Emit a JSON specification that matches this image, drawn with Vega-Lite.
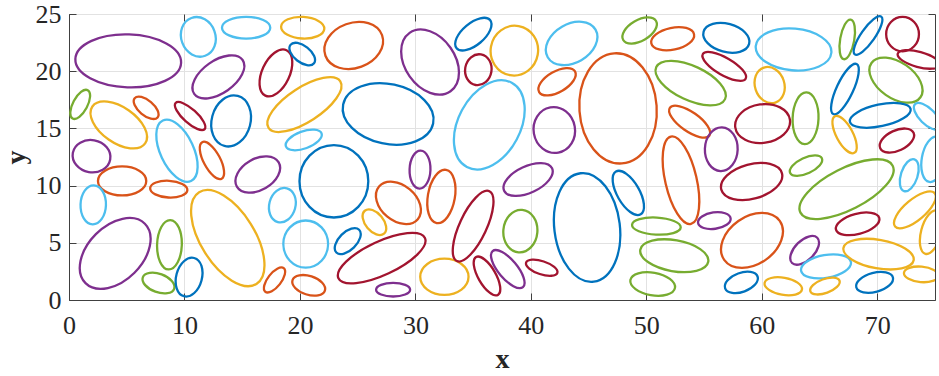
{
"$schema":"https://vega.github.io/schema/vega-lite/v6.json",
"width":866,"height":286,
"autosize":{"type":"none"},
"padding":{"left":69,"top":14,"right":4,"bottom":76},
"background":"white",
"config":{"view":{"stroke":"#404040","strokeWidth":1},"font":"Liberation Serif"},
"resolve":{"axis":{"x":"independent","y":"independent"}},
"data":{"values":[
{"x":5.13,"y":20.9,"a":4.6,"r":0.5,"t":-2,"c":"purple"},
{"x":11.2,"y":23.0,"a":1.75,"r":0.85,"t":-70,"c":"lightblue"},
{"x":15.34,"y":23.8,"a":2.1,"r":0.45,"t":0,"c":"lightblue"},
{"x":12.94,"y":19.5,"a":2.57,"r":0.55,"t":35,"c":"purple"},
{"x":17.92,"y":19.85,"a":2.18,"r":0.55,"t":65,"c":"darkred"},
{"x":0.97,"y":17.1,"a":1.4,"r":0.45,"t":62,"c":"green"},
{"x":4.31,"y":15.3,"a":2.8,"r":0.55,"t":-35,"c":"yellow"},
{"x":6.68,"y":16.8,"a":1.3,"r":0.5,"t":-40,"c":"orange"},
{"x":10.49,"y":16.08,"a":1.7,"r":0.35,"t":-42,"c":"darkred"},
{"x":14.04,"y":15.65,"a":2.25,"r":0.75,"t":75,"c":"blue"},
{"x":1.95,"y":12.57,"a":1.65,"r":0.85,"t":-10,"c":"purple"},
{"x":9.35,"y":13.05,"a":2.9,"r":0.5,"t":-65,"c":"lightblue"},
{"x":12.38,"y":12.2,"a":1.8,"r":0.4,"t":-62,"c":"orange"},
{"x":20.24,"y":23.8,"a":1.88,"r":0.5,"t":-3,"c":"yellow"},
{"x":20.2,"y":21.5,"a":1.3,"r":0.55,"t":-38,"c":"blue"},
{"x":24.66,"y":22.25,"a":2.62,"r":0.75,"t":20,"c":"orange"},
{"x":31.27,"y":20.8,"a":3.1,"r":0.7,"t":-55,"c":"purple"},
{"x":35.02,"y":23.24,"a":1.9,"r":0.5,"t":40,"c":"blue"},
{"x":35.45,"y":20.13,"a":1.35,"r":0.85,"t":80,"c":"darkred"},
{"x":38.57,"y":21.8,"a":2.17,"r":0.95,"t":80,"c":"yellow"},
{"x":20.39,"y":17.08,"a":3.72,"r":0.4,"t":33,"c":"yellow"},
{"x":27.64,"y":16.26,"a":4.0,"r":0.65,"t":-12,"c":"blue"},
{"x":20.33,"y":13.99,"a":1.65,"r":0.45,"t":20,"c":"lightblue"},
{"x":36.4,"y":15.31,"a":4.15,"r":0.65,"t":62,"c":"lightblue"},
{"x":43.53,"y":22.43,"a":2.4,"r":0.7,"t":30,"c":"lightblue"},
{"x":49.42,"y":23.56,"a":1.65,"r":0.55,"t":30,"c":"green"},
{"x":52.28,"y":22.84,"a":1.9,"r":0.5,"t":12,"c":"orange"},
{"x":42.27,"y":19.08,"a":1.8,"r":0.5,"t":30,"c":"orange"},
{"x":47.55,"y":16.75,"a":4.8,"r":0.7,"t":-86,"c":"orange"},
{"x":42.03,"y":14.86,"a":2.0,"r":0.9,"t":-80,"c":"purple"},
{"x":53.84,"y":18.96,"a":3.3,"r":0.45,"t":-25,"c":"green"},
{"x":53.75,"y":15.59,"a":2.1,"r":0.4,"t":-35,"c":"orange"},
{"x":53.0,"y":10.47,"a":3.9,"r":0.35,"t":-77,"c":"orange"},
{"x":56.49,"y":13.18,"a":1.9,"r":0.75,"t":88,"c":"purple"},
{"x":56.93,"y":22.92,"a":2.05,"r":0.6,"t":-15,"c":"blue"},
{"x":56.75,"y":20.42,"a":2.15,"r":0.35,"t":-30,"c":"darkred"},
{"x":62.75,"y":21.9,"a":3.3,"r":0.55,"t":-5,"c":"lightblue"},
{"x":67.4,"y":22.78,"a":1.75,"r":0.35,"t":80,"c":"green"},
{"x":69.2,"y":23.12,"a":2.0,"r":0.3,"t":55,"c":"blue"},
{"x":72.19,"y":23.24,"a":1.5,"r":0.95,"t":90,"c":"darkred"},
{"x":73.6,"y":21.03,"a":1.9,"r":0.35,"t":-15,"c":"darkred"},
{"x":60.68,"y":18.79,"a":1.6,"r":0.8,"t":-72,"c":"yellow"},
{"x":63.79,"y":15.88,"a":2.25,"r":0.5,"t":88,"c":"green"},
{"x":67.2,"y":18.44,"a":2.4,"r":0.3,"t":65,"c":"blue"},
{"x":71.62,"y":19.22,"a":2.6,"r":0.6,"t":-35,"c":"green"},
{"x":70.26,"y":16.14,"a":2.7,"r":0.35,"t":12,"c":"blue"},
{"x":60.07,"y":15.42,"a":2.4,"r":0.7,"t":8,"c":"darkred"},
{"x":67.17,"y":14.46,"a":1.8,"r":0.4,"t":-62,"c":"yellow"},
{"x":74.33,"y":16.06,"a":1.5,"r":0.45,"t":-45,"c":"lightblue"},
{"x":71.7,"y":13.94,"a":1.6,"r":0.55,"t":25,"c":"darkred"},
{"x":74.85,"y":12.3,"a":2.0,"r":0.5,"t":80,"c":"lightblue"},
{"x":72.77,"y":10.91,"a":1.45,"r":0.5,"t":72,"c":"lightblue"},
{"x":4.6,"y":10.41,"a":2.1,"r":0.6,"t":0,"c":"orange"},
{"x":8.64,"y":9.69,"a":1.62,"r":0.45,"t":-3,"c":"orange"},
{"x":2.1,"y":8.32,"a":1.7,"r":0.65,"t":88,"c":"lightblue"},
{"x":4.0,"y":4.07,"a":3.65,"r":0.65,"t":45,"c":"purple"},
{"x":8.7,"y":4.83,"a":2.15,"r":0.5,"t":88,"c":"green"},
{"x":7.75,"y":1.48,"a":1.45,"r":0.55,"t":-20,"c":"green"},
{"x":10.4,"y":2.0,"a":1.72,"r":0.65,"t":75,"c":"blue"},
{"x":13.75,"y":5.41,"a":4.7,"r":0.5,"t":-58,"c":"yellow"},
{"x":17.8,"y":1.75,"a":1.3,"r":0.45,"t":52,"c":"orange"},
{"x":16.35,"y":10.97,"a":2.1,"r":0.65,"t":30,"c":"purple"},
{"x":18.48,"y":8.29,"a":1.52,"r":0.75,"t":75,"c":"lightblue"},
{"x":22.94,"y":10.38,"a":3.15,"r":0.95,"t":90,"c":"blue"},
{"x":20.5,"y":4.89,"a":2.05,"r":0.95,"t":90,"c":"lightblue"},
{"x":20.76,"y":1.28,"a":1.48,"r":0.55,"t":-18,"c":"orange"},
{"x":24.14,"y":5.15,"a":1.4,"r":0.55,"t":45,"c":"blue"},
{"x":26.45,"y":6.8,"a":1.3,"r":0.6,"t":-50,"c":"yellow"},
{"x":28.53,"y":8.49,"a":2.2,"r":0.7,"t":-40,"c":"orange"},
{"x":27.08,"y":3.66,"a":4.15,"r":0.35,"t":25,"c":"darkred"},
{"x":28.07,"y":0.9,"a":1.48,"r":0.4,"t":0,"c":"purple"},
{"x":30.4,"y":11.4,"a":1.65,"r":0.55,"t":88,"c":"purple"},
{"x":32.25,"y":9.05,"a":2.35,"r":0.5,"t":80,"c":"orange"},
{"x":32.51,"y":2.03,"a":2.1,"r":0.75,"t":0,"c":"yellow"},
{"x":35.0,"y":6.46,"a":3.35,"r":0.35,"t":65,"c":"darkred"},
{"x":36.2,"y":2.1,"a":1.9,"r":0.4,"t":-60,"c":"darkred"},
{"x":38.0,"y":2.7,"a":2.05,"r":0.4,"t":-50,"c":"purple"},
{"x":39.09,"y":6.02,"a":1.85,"r":0.8,"t":85,"c":"green"},
{"x":39.76,"y":10.53,"a":2.3,"r":0.5,"t":25,"c":"purple"},
{"x":40.94,"y":2.82,"a":1.43,"r":0.4,"t":-18,"c":"darkred"},
{"x":44.87,"y":6.34,"a":4.75,"r":0.6,"t":-83,"c":"blue"},
{"x":48.44,"y":9.36,"a":2.15,"r":0.45,"t":-60,"c":"blue"},
{"x":50.87,"y":6.46,"a":2.12,"r":0.35,"t":-3,"c":"green"},
{"x":52.42,"y":3.87,"a":3.0,"r":0.45,"t":-10,"c":"green"},
{"x":50.55,"y":1.4,"a":1.97,"r":0.5,"t":-10,"c":"green"},
{"x":55.89,"y":6.94,"a":1.43,"r":0.5,"t":8,"c":"purple"},
{"x":59.12,"y":10.36,"a":2.73,"r":0.55,"t":15,"c":"darkred"},
{"x":59.15,"y":5.21,"a":2.95,"r":0.7,"t":35,"c":"orange"},
{"x":63.83,"y":11.75,"a":1.52,"r":0.45,"t":25,"c":"green"},
{"x":67.34,"y":9.69,"a":4.5,"r":0.4,"t":27,"c":"green"},
{"x":68.3,"y":6.66,"a":1.95,"r":0.45,"t":15,"c":"darkred"},
{"x":63.71,"y":4.34,"a":1.55,"r":0.55,"t":45,"c":"purple"},
{"x":65.56,"y":2.94,"a":2.2,"r":0.45,"t":10,"c":"lightblue"},
{"x":70.11,"y":4.01,"a":3.1,"r":0.4,"t":-10,"c":"yellow"},
{"x":73.26,"y":7.88,"a":2.25,"r":0.4,"t":40,"c":"yellow"},
{"x":74.67,"y":5.93,"a":1.95,"r":0.45,"t":75,"c":"yellow"},
{"x":73.8,"y":2.24,"a":1.5,"r":0.45,"t":-5,"c":"yellow"},
{"x":58.23,"y":1.54,"a":1.5,"r":0.55,"t":20,"c":"blue"},
{"x":61.86,"y":1.2,"a":1.65,"r":0.45,"t":-10,"c":"yellow"},
{"x":65.47,"y":1.22,"a":1.35,"r":0.45,"t":20,"c":"yellow"},
{"x":69.77,"y":1.54,"a":1.65,"r":0.5,"t":15,"c":"blue"}
]},
"layer":[
{
"mark":{"type":"point","filled":false,"strokeWidth":2.3,"opacity":1,"clip":true},
"encoding":{
"x":{"field":"x","type":"quantitative","title":"x",
 "scale":{"domain":[0,75],"nice":false,"zero":false},
 "axis":{"orient":"bottom","values":[0,10,20,30,40,50,60,70],"tickSize":-7,"tickColor":"#404040","domainColor":"#404040","gridColor":"#e2e2e2","labelFont":"Liberation Serif","labelFontSize":26,"labelColor":"#262626","labelPadding":19,"labelFlush":false,"labelOverlap":false,"titleFont":"Liberation Serif","titleFontSize":28,"titleFontWeight":"bold","titleColor":"#262626","titlePadding":7}},
"y":{"field":"y","type":"quantitative","title":"y",
 "scale":{"domain":[0,25],"nice":false,"zero":false},
 "axis":{"orient":"left","values":[0,5,10,15,20,25],"tickSize":-7,"tickColor":"#404040","domainColor":"#404040","gridColor":"#e2e2e2","labelFont":"Liberation Serif","labelFontSize":26,"labelColor":"#262626","labelPadding":15,"labelFlush":false,"labelOverlap":false,"titleFont":"Liberation Serif","titleFontSize":28,"titleFontWeight":"bold","titleColor":"#262626","titlePadding":5}},
"size":{"field":"a","type":"quantitative","scale":{"type":"pow","exponent":2,"domain":[0,5],"range":[0,13225]},"legend":null},
"angle":{"field":"t","type":"quantitative","scale":{"domain":[-90,90],"range":[90,-90]}},
"shape":{"field":"r","type":"nominal","legend":null,"scale":{
 "domain":[0.3,0.35,0.4,0.45,0.5,0.55,0.6,0.65,0.7,0.75,0.8,0.85,0.9,0.95],
 "range":[
 "M1,0C1,0.1657 0.5523,0.3 0,0.3C-0.5523,0.3 -1,0.1657 -1,0C-1,-0.1657 -0.5523,-0.3 0,-0.3C0.5523,-0.3 1,-0.1657 1,0Z",
 "M1,0C1,0.1933 0.5523,0.35 0,0.35C-0.5523,0.35 -1,0.1933 -1,0C-1,-0.1933 -0.5523,-0.35 0,-0.35C0.5523,-0.35 1,-0.1933 1,0Z",
 "M1,0C1,0.2209 0.5523,0.4 0,0.4C-0.5523,0.4 -1,0.2209 -1,0C-1,-0.2209 -0.5523,-0.4 0,-0.4C0.5523,-0.4 1,-0.2209 1,0Z",
 "M1,0C1,0.2485 0.5523,0.45 0,0.45C-0.5523,0.45 -1,0.2485 -1,0C-1,-0.2485 -0.5523,-0.45 0,-0.45C0.5523,-0.45 1,-0.2485 1,0Z",
 "M1,0C1,0.2762 0.5523,0.5 0,0.5C-0.5523,0.5 -1,0.2762 -1,0C-1,-0.2762 -0.5523,-0.5 0,-0.5C0.5523,-0.5 1,-0.2762 1,0Z",
 "M1,0C1,0.3038 0.5523,0.55 0,0.55C-0.5523,0.55 -1,0.3038 -1,0C-1,-0.3038 -0.5523,-0.55 0,-0.55C0.5523,-0.55 1,-0.3038 1,0Z",
 "M1,0C1,0.3314 0.5523,0.6 0,0.6C-0.5523,0.6 -1,0.3314 -1,0C-1,-0.3314 -0.5523,-0.6 0,-0.6C0.5523,-0.6 1,-0.3314 1,0Z",
 "M1,0C1,0.359 0.5523,0.65 0,0.65C-0.5523,0.65 -1,0.359 -1,0C-1,-0.359 -0.5523,-0.65 0,-0.65C0.5523,-0.65 1,-0.359 1,0Z",
 "M1,0C1,0.3866 0.5523,0.7 0,0.7C-0.5523,0.7 -1,0.3866 -1,0C-1,-0.3866 -0.5523,-0.7 0,-0.7C0.5523,-0.7 1,-0.3866 1,0Z",
 "M1,0C1,0.4142 0.5523,0.75 0,0.75C-0.5523,0.75 -1,0.4142 -1,0C-1,-0.4142 -0.5523,-0.75 0,-0.75C0.5523,-0.75 1,-0.4142 1,0Z",
 "M1,0C1,0.4418 0.5523,0.8 0,0.8C-0.5523,0.8 -1,0.4418 -1,0C-1,-0.4418 -0.5523,-0.8 0,-0.8C0.5523,-0.8 1,-0.4418 1,0Z",
 "M1,0C1,0.4695 0.5523,0.85 0,0.85C-0.5523,0.85 -1,0.4695 -1,0C-1,-0.4695 -0.5523,-0.85 0,-0.85C0.5523,-0.85 1,-0.4695 1,0Z",
 "M1,0C1,0.4971 0.5523,0.9 0,0.9C-0.5523,0.9 -1,0.4971 -1,0C-1,-0.4971 -0.5523,-0.9 0,-0.9C0.5523,-0.9 1,-0.4971 1,0Z",
 "M1,0C1,0.5247 0.5523,0.95 0,0.95C-0.5523,0.95 -1,0.5247 -1,0C-1,-0.5247 -0.5523,-0.95 0,-0.95C0.5523,-0.95 1,-0.5247 1,0Z"
 ]}},
"color":{"field":"c","type":"nominal","legend":null,"scale":{
 "domain":["blue","orange","yellow","purple","green","lightblue","darkred"],
 "range":["#0072BD","#D95319","#EDB120","#7E2F8E","#77AC30","#4DBEEE","#A2142F"]}}
}
},
{
"mark":{"type":"point","opacity":0},
"encoding":{
"x":{"field":"x","type":"quantitative",
 "scale":{"domain":[0,75],"nice":false,"zero":false},
 "axis":{"orient":"top","values":[0,10,20,30,40,50,60,70],"tickSize":-7,"tickColor":"#404040","domain":false,"grid":false,"labels":false,"title":null}},
"y":{"field":"y","type":"quantitative",
 "scale":{"domain":[0,25],"nice":false,"zero":false},
 "axis":{"orient":"right","values":[0,5,10,15,20,25],"tickSize":-7,"tickColor":"#404040","domain":false,"grid":false,"labels":false,"title":null}}
}
}
]
}
